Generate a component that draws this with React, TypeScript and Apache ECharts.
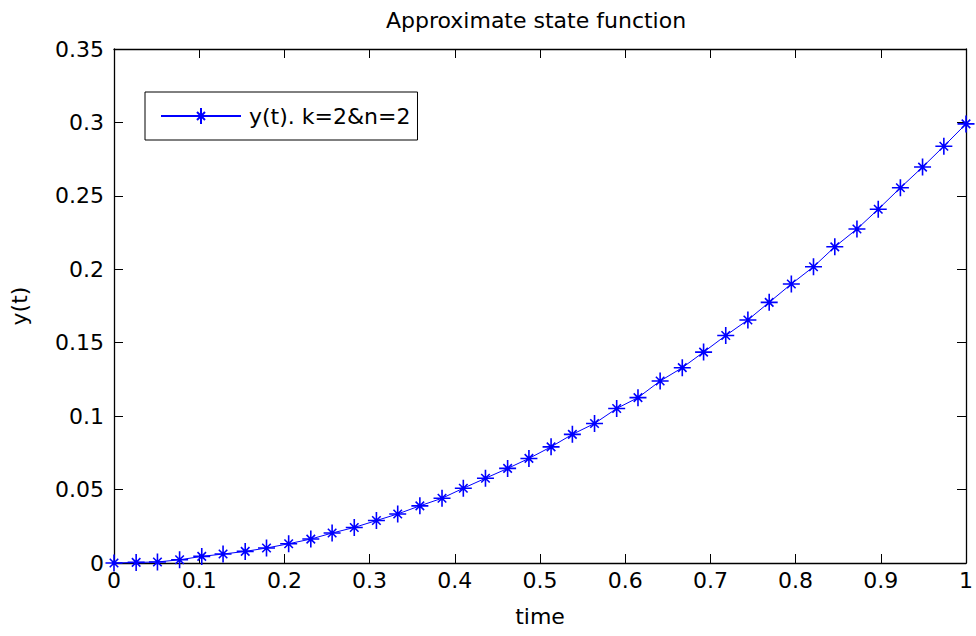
import React, { useEffect, useRef } from "react";
import * as echarts from "echarts";

const timeValues: number[] = [
  0, 0.026, 0.051, 0.077, 0.103, 0.128, 0.154, 0.179, 0.205, 0.231,
  0.256, 0.282, 0.308, 0.333, 0.359, 0.385, 0.41, 0.436, 0.462, 0.487,
  0.513, 0.538, 0.564, 0.59, 0.615, 0.641, 0.667, 0.692, 0.718, 0.744,
  0.769, 0.795, 0.821, 0.846, 0.872, 0.897, 0.923, 0.949, 0.974, 1,
];

const yValues: number[] = [
  0, 0.0004, 0.0007, 0.0022, 0.0045, 0.0061, 0.0079, 0.0102, 0.0131, 0.0163,
  0.0204, 0.0242, 0.0289, 0.0334, 0.0389, 0.0441, 0.0509, 0.0577, 0.0644, 0.0712,
  0.0791, 0.0876, 0.095, 0.1052, 0.1126, 0.1239, 0.133, 0.1436, 0.1549, 0.1655,
  0.1775, 0.19, 0.2017, 0.2153, 0.2274, 0.2409, 0.2555, 0.2696, 0.2838, 0.299,
];

const titleText = "Approximate state function";
const seriesName = "y(t). k=2&n=2";
const xAxisName = "time";
const yAxisName = "y(t)";

const FONT = "DejaVu Sans";
const STAR = "path://M0,-1L0,1M-1,0L1,0M-0.5,-0.5L0.5,0.5M-0.5,0.5L0.5,-0.5";

export default function App() {
  const ref = useRef<HTMLDivElement>(null);
  useEffect(() => {
    document.body.style.margin = "0";
    const chart = echarts.init(ref.current!, null, { renderer: "svg", width: 976, height: 636 });
    const tickCommon = {
      show: true,
      inside: true,
      length: 9,
      lineStyle: { color: "#000", width: 1 },
    };
    const axisLine = { show: true, onZero: false, lineStyle: { color: "#000", width: 1.3 } };
    const labelStyle = { color: "#000", fontFamily: FONT, fontSize: 22 };
    chart.setOption({
      animation: false,
      backgroundColor: "#fff",
      title: {
        text: titleText,
        left: 381,
        top: 4,
        textStyle: { color: "#000", fontFamily: FONT, fontSize: 22, fontWeight: "normal" },
      },
      grid: { left: 111, top: 49, width: 861, height: 514, containLabel: false },
      legend: {
        left: 145,
        top: 92,
        orient: "horizontal",
        padding: [13, 7, 13, 15],
        backgroundColor: "#fff",
        borderColor: "#000",
        borderWidth: 1,
        borderRadius: 0,
        itemWidth: 80,
        itemHeight: 20,
        textStyle: { color: "#000", fontFamily: FONT, fontSize: 22, padding: [0, 0, 0, 3] },
        data: [seriesName],
      },
      xAxis: [
        {
          type: "value",
          min: 0,
          max: 1,
          interval: 0.1,
          position: "bottom",
          name: xAxisName,
          nameLocation: "middle",
          nameGap: 42,
          nameTextStyle: { ...labelStyle },
          axisLine,
          axisTick: tickCommon,
          axisLabel: { ...labelStyle, margin: 6 },
          splitLine: { show: false },
        },
        {
          type: "value",
          min: 0,
          max: 1,
          interval: 0.1,
          position: "top",
          axisLine,
          axisTick: tickCommon,
          axisLabel: { show: false },
          splitLine: { show: false },
        },
      ],
      yAxis: [
        {
          type: "value",
          min: 0,
          max: 0.35,
          interval: 0.05,
          position: "left",
          name: yAxisName,
          nameLocation: "middle",
          nameGap: 84,
          nameTextStyle: { ...labelStyle },
          axisLine,
          axisTick: tickCommon,
          axisLabel: { ...labelStyle, margin: 10 },
          splitLine: { show: false },
        },
        {
          type: "value",
          min: 0,
          max: 0.35,
          interval: 0.05,
          position: "right",
          axisLine,
          axisTick: tickCommon,
          axisLabel: { show: false },
          splitLine: { show: false },
        },
      ],
      series: [
        {
          name: seriesName,
          type: "line",
          xAxisIndex: 0,
          yAxisIndex: 0,
          data: timeValues.map((t, i) => [t, yValues[i]]),
          symbol: STAR,
          symbolSize: 17,
          showAllSymbol: true,
          clip: false,
          lineStyle: { color: "#0000ff", width: 1 },
          itemStyle: { color: "#0000ff", borderColor: "#0000ff", borderWidth: 1.6 },
          emphasis: { disabled: true },
        },
      ],
    });
    return () => chart.dispose();
  }, []);
  return (
    <div
      ref={ref}
      style={{ position: "fixed", left: 0, top: 0, width: 976, height: 636 }}
    />
  );
}
